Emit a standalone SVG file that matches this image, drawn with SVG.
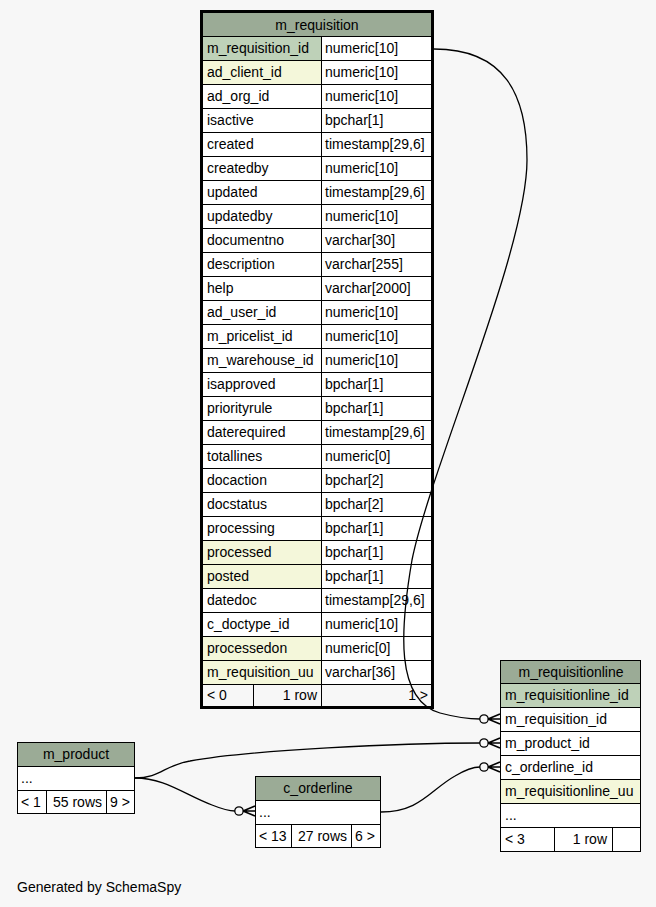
<svg xmlns="http://www.w3.org/2000/svg" width="656" height="907" viewBox="0 0 656 907">
<style>
text{font-family:"Liberation Sans",Arial,sans-serif;font-size:14px;fill:#000}
.c{text-anchor:middle}
.e{text-anchor:end}
.hd{fill:#9bab96}
.pk{fill:#bed1b8}
.hl{fill:#f4f7da}
.wh{fill:#ffffff}
.ln{stroke:#000;stroke-width:1;fill:none}
.edge{stroke:#000;stroke-width:1.3;fill:none}
</style>
<defs>
<g id="crow">
<circle cx="-16" cy="0" r="4.2" fill="#f7f7f7" stroke="#000" stroke-width="1.3"/>
<path d="M-12,0 L0,-5 M-12,0 L0,0 M-12,0 L0,5" stroke="#000" stroke-width="1.6" fill="none"/>
</g>
</defs>
<rect width="656" height="907" fill="#f7f7f7"/>

<g id="m_requisition">
<rect class="hd" x="201" y="11" width="232" height="25"/>
<text class="c" x="317" y="30">m_requisition</text>
<rect class="wh" x="201" y="36" width="232" height="648"/>
<rect class="pk" x="202" y="36" width="119" height="24"/>
<rect class="hl" x="202" y="60" width="119" height="24"/>
<rect class="hl" x="202" y="540" width="119" height="24"/>
<rect class="hl" x="202" y="564" width="119" height="24"/>
<rect class="hl" x="202" y="636" width="119" height="24"/>
<rect class="hl" x="202" y="660" width="119" height="24"/>
<rect x="202" y="684" width="230" height="23" fill="#f7f7f7"/>
<path class="ln" d="M201,36.5H433 M201,60.5H433 M201,84.5H433 M201,108.5H433 M201,132.5H433 M201,156.5H433 M201,180.5H433 M201,204.5H433 M201,228.5H433 M201,252.5H433 M201,276.5H433 M201,300.5H433 M201,324.5H433 M201,348.5H433 M201,372.5H433 M201,396.5H433 M201,420.5H433 M201,444.5H433 M201,468.5H433 M201,492.5H433 M201,516.5H433 M201,540.5H433 M201,564.5H433 M201,588.5H433 M201,612.5H433 M201,636.5H433 M201,660.5H433 M201,684.5H433 M321.5,36V708 M253.5,684V708"/>
<rect x="201.5" y="11.5" width="231" height="696" fill="none" stroke="#000" stroke-width="3"/>
<text x="207" y="53">m_requisition_id</text><text x="325" y="53">numeric[10]</text>
<text x="207" y="77">ad_client_id</text><text x="325" y="77">numeric[10]</text>
<text x="207" y="101">ad_org_id</text><text x="325" y="101">numeric[10]</text>
<text x="207" y="125">isactive</text><text x="325" y="125">bpchar[1]</text>
<text x="207" y="149">created</text><text x="325" y="149">timestamp[29,6]</text>
<text x="207" y="173">createdby</text><text x="325" y="173">numeric[10]</text>
<text x="207" y="197">updated</text><text x="325" y="197">timestamp[29,6]</text>
<text x="207" y="221">updatedby</text><text x="325" y="221">numeric[10]</text>
<text x="207" y="245">documentno</text><text x="325" y="245">varchar[30]</text>
<text x="207" y="269">description</text><text x="325" y="269">varchar[255]</text>
<text x="207" y="293">help</text><text x="325" y="293">varchar[2000]</text>
<text x="207" y="317">ad_user_id</text><text x="325" y="317">numeric[10]</text>
<text x="207" y="341">m_pricelist_id</text><text x="325" y="341">numeric[10]</text>
<text x="207" y="365">m_warehouse_id</text><text x="325" y="365">numeric[10]</text>
<text x="207" y="389">isapproved</text><text x="325" y="389">bpchar[1]</text>
<text x="207" y="413">priorityrule</text><text x="325" y="413">bpchar[1]</text>
<text x="207" y="437">daterequired</text><text x="325" y="437">timestamp[29,6]</text>
<text x="207" y="461">totallines</text><text x="325" y="461">numeric[0]</text>
<text x="207" y="485">docaction</text><text x="325" y="485">bpchar[2]</text>
<text x="207" y="509">docstatus</text><text x="325" y="509">bpchar[2]</text>
<text x="207" y="533">processing</text><text x="325" y="533">bpchar[1]</text>
<text x="207" y="557">processed</text><text x="325" y="557">bpchar[1]</text>
<text x="207" y="581">posted</text><text x="325" y="581">bpchar[1]</text>
<text x="207" y="605">datedoc</text><text x="325" y="605">timestamp[29,6]</text>
<text x="207" y="629">c_doctype_id</text><text x="325" y="629">numeric[10]</text>
<text x="207" y="653">processedon</text><text x="325" y="653">numeric[0]</text>
<text x="207" y="677">m_requisition_uu</text><text x="325" y="677">varchar[36]</text>
<text x="207" y="700">&lt; 0</text>
<text class="e" x="317" y="700">1 row</text>
<text class="e" x="428" y="700">1 &gt;</text>
</g>

<g id="m_requisitionline">
<rect class="hd" x="500.5" y="660.5" width="140" height="23"/>
<rect class="pk" x="500.5" y="683.5" width="140" height="24"/>
<rect class="wh" x="500.5" y="707.5" width="140" height="72"/>
<rect class="hl" x="500.5" y="779.5" width="140" height="24"/>
<rect class="wh" x="500.5" y="803.5" width="140" height="48"/>
<path class="ln" d="M500,683.5H641 M500,707.5H641 M500,731.5H641 M500,755.5H641 M500,779.5H641 M500,803.5H641 M500,827.5H641 M554.5,827V851 M612.5,827V851"/>
<rect x="500.5" y="660.5" width="140" height="191" fill="none" stroke="#000" stroke-width="1"/>
<text class="c" x="571" y="677">m_requisitionline</text>
<text x="505" y="700">m_requisitionline_id</text>
<text x="505" y="724">m_requisition_id</text>
<text x="505" y="748">m_product_id</text>
<text x="505" y="772">c_orderline_id</text>
<text x="505" y="796">m_requisitionline_uu</text>
<text x="505" y="820">...</text>
<text x="505" y="844">&lt; 3</text>
<text class="e" x="607" y="844">1 row</text>
</g>

<g id="m_product">
<rect class="hd" x="17.5" y="742.5" width="117" height="24"/>
<rect class="wh" x="17.5" y="766.5" width="117" height="47"/>
<path class="ln" d="M17,766.5H135 M17,790.5H135 M46.5,790V814 M106.5,790V814"/>
<rect x="17.5" y="742.5" width="117" height="71" fill="none" stroke="#000" stroke-width="1"/>
<text class="c" x="76" y="759">m_product</text>
<text x="21" y="783">...</text>
<text x="21" y="807">&lt; 1</text>
<text class="e" x="102" y="807">55 rows</text>
<text x="110" y="807">9 &gt;</text>
</g>

<g id="c_orderline">
<rect class="hd" x="255.5" y="776.5" width="125" height="24"/>
<rect class="wh" x="255.5" y="800.5" width="125" height="47"/>
<path class="ln" d="M255,800.5H381 M255,824.5H381 M291.5,824V848 M351.5,824V848"/>
<rect x="255.5" y="776.5" width="125" height="71" fill="none" stroke="#000" stroke-width="1"/>
<text class="c" x="318" y="793">c_orderline</text>
<text x="259" y="817">...</text>
<text x="259" y="841">&lt; 13</text>
<text class="e" x="347" y="841">27 rows</text>
<text x="355" y="841">6 &gt;</text>
</g>

<g id="connectors">
<path class="edge" d="M434,49 C505,49 527,95 527,160 C527,250 430,470 412,560 C400,630 395,700 440,713 C455,717 468,719 480,719"/>
<use href="#crow" x="500" y="719"/>
<path class="edge" d="M135,778 C160,778 165,765 190,761 C250,750 400,743 480,743"/>
<use href="#crow" x="500" y="743"/>
<path class="edge" d="M381,812 C420,812 430,790 455,776 C465,770 472,767 480,767"/>
<use href="#crow" x="500" y="767"/>
<path class="edge" d="M135,778 C165,778 185,795 212,805 C222,809 228,811 235,811"/>
<use href="#crow" x="255" y="811"/>
</g>

<text x="17" y="892">Generated by SchemaSpy</text>
</svg>
